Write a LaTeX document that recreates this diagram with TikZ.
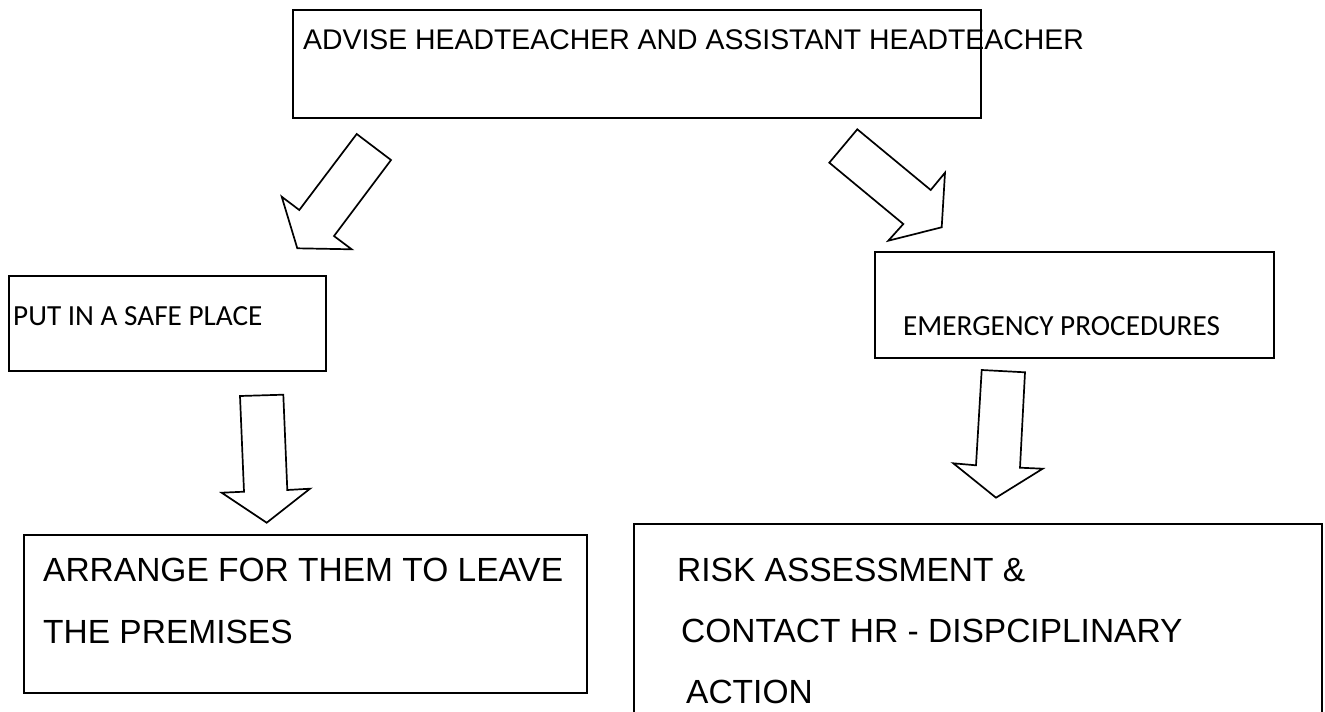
\documentclass[tikz,border=0pt]{standalone}
\usepackage{fontspec}
\setmainfont{Liberation Sans}
\newfontfamily\calibfont{Carlito}
\begin{document}
\begin{tikzpicture}[x=1pt,y=-1pt,
  box/.style={draw,line width=1.8pt,rectangle,inner sep=0pt,anchor=north west},
  blockarrow/.style={draw,line width=1.7pt,line join=miter,fill=white},
  toplabel/.style={anchor=base west,inner sep=0pt,font=\fontsize{28.4}{34}\selectfont},
  biglabel/.style={anchor=base west,inner sep=0pt,font=\fontsize{33.5}{40}\selectfont},
  smalllabel/.style={anchor=base west,inner sep=0pt,font=\calibfont\fontsize{29.2}{34}\selectfont}
]
\useasboundingbox (0,0) rectangle (1325,712);
\clip (0,0) rectangle (1325,712);

% boxes
\node[box,minimum width=688pt,minimum height=108pt] (advise) at (292,9) {};
\node[box,minimum width=317pt,minimum height=95pt] (safe) at (8,275) {};
\node[box,minimum width=399pt,minimum height=106pt] (emerg) at (874,251) {};
\node[box,minimum width=563pt,minimum height=158pt] (arrange) at (23,534) {};
\node[box,minimum width=688pt,minimum height=220pt] (risk) at (633,523) {};

% texts
\node[toplabel] (advisetext) at (303,49) {ADVISE HEADTEACHER AND ASSISTANT HEADTEACHER};
\node[smalllabel] (safetext) at (13,325) {PUT IN A SAFE PLACE};
\node[smalllabel] (emergtext) at (903,335) {EMERGENCY PROCEDURES};
\node[biglabel] (arrange1) at (43,581) {ARRANGE FOR THEM TO LEAVE};
\node[biglabel] (arrange2) at (43,643) {THE PREMISES};
\node[biglabel] (risk1) at (677,581) {RISK ASSESSMENT \&};
\node[biglabel] (risk2) at (681,642) {CONTACT HR - DISPCIPLINARY};
\node[biglabel] (risk3) at (686,703) {ACTION};

% block arrows
\draw[blockarrow] (356.7,134) -- (391,160) -- (334,236) -- (351.7,249.3)
  -- (297.3,248.3) -- (281.7,196.7) -- (299.3,210) -- cycle;
\draw[blockarrow] (857.3,129.3) -- (930.7,190) -- (945,172.7) -- (941.7,227.3)
  -- (888.3,240.7) -- (903.3,224) -- (829.3,162.7) -- cycle;
\draw[blockarrow] (240,396) -- (283.3,394.7) -- (287.3,490) -- (310,488.7)
  -- (266.7,522.7) -- (221.7,492.7) -- (244,491.7) -- cycle;
\draw[blockarrow] (981.7,370) -- (1025,372.3) -- (1020,467.7) -- (1042.7,468.7)
  -- (996,497.7) -- (953.3,463.3) -- (976,465.3) -- cycle;
\end{tikzpicture}
\end{document}
